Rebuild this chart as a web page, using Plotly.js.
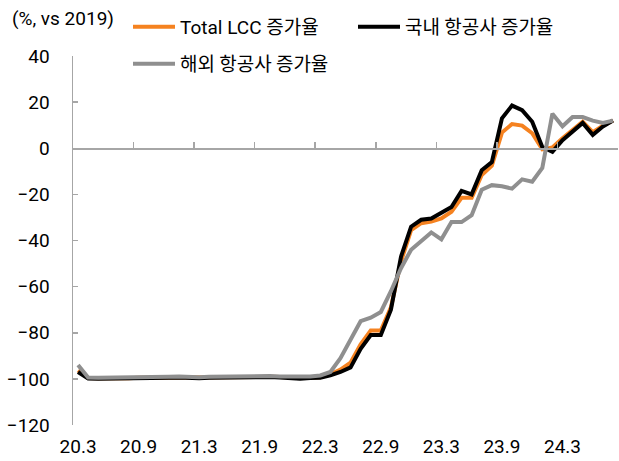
<!DOCTYPE html>
<html>
<head>
<meta charset="utf-8">
<script src="https://cdn.plot.ly/plotly-3.0.1.min.js"></script>
<style>html,body{margin:0;padding:0;background:#fff;}#chart{width:619px;height:461px;}</style>
</head>
<body>
<div id="chart"></div>
<script>
// Monthly categories (YY.M), 2020.3 - 2024.8
const months = [
  '20.3','20.4','20.5','20.6','20.7','20.8','20.9','20.10','20.11','20.12',
  '21.1','21.2','21.3','21.4','21.5','21.6','21.7','21.8','21.9','21.10','21.11','21.12',
  '22.1','22.2','22.3','22.4','22.5','22.6','22.7','22.8','22.9','22.10','22.11','22.12',
  '23.1','23.2','23.3','23.4','23.5','23.6','23.7','23.8','23.9','23.10','23.11','23.12',
  '24.1','24.2','24.3','24.4','24.5','24.6','24.7','24.8'
];
const tickLabels = ['20.3','20.9','21.3','21.9','22.3','22.9','23.3','23.9','24.3'];

const seriesNames = ['Total LCC 증가율', '국내 항공사 증가율', '해외 항공사 증가율'];
const unitLabel = '(%, vs 2019)';

const totalLCC = [
  -96.3, -99.6, -99.7, -99.8, -99.6, -99.7, -99.5, -99.5, -99.6, -99.3,
  -99.3, -99.5, -99.5, -99.4, -99.3, -99.4, -99.4, -99.3, -99.2, -99.1, -99.2, -99.5,
  -99.7, -99.5, -99.3, -98.0, -96.0, -93.0, -85.0, -79.0, -79.0, -69.0, -49.0, -35.5,
  -32.5, -31.8, -30.4, -27.5, -21.5, -21.5, -11.6, -7.5, 6.8, 10.5, 9.8, 6.5,
  -0.5, 0.3, 4.3, 7.9, 11.5, 7.0, 9.8, 12.0
];
const domestic = [
  -97.0, -99.8, -99.9, -99.9, -99.8, -99.8, -99.7, -99.6, -99.7, -99.5,
  -99.4, -99.6, -99.7, -99.5, -99.4, -99.5, -99.6, -99.4, -99.3, -99.2, -99.4, -99.7,
  -99.9, -99.6, -99.5, -98.5, -97.0, -95.0, -87.0, -81.0, -81.0, -70.0, -47.0, -34.0,
  -31.0, -30.5, -28.0, -25.5, -18.5, -20.0, -9.5, -6.0, 13.0, 18.5, 16.5, 11.5,
  0.5, -1.5, 3.5, 7.0, 11.0, 5.8, 9.4, 12.0
];
const overseas = [
  -94.0, -99.4, -99.5, -99.5, -99.4, -99.3, -99.3, -99.2, -99.3, -99.1,
  -99.0, -99.2, -99.3, -99.1, -99.0, -99.1, -99.2, -99.0, -98.9, -98.8, -99.0, -99.1,
  -99.3, -99.0, -98.5, -97.0, -91.0, -83.0, -75.0, -73.5, -71.0, -62.0, -52.0, -44.0,
  -40.0, -36.5, -39.5, -32.0, -32.0, -29.0, -18.0, -16.0, -16.5, -17.5, -13.5, -14.5,
  -8.5, 15.0, 9.5, 13.5, 13.5, 12.0, 11.0, 12.0
];

const W = 619, H = 461;
const M = {l: 73, r: 1, t: 56, b: 36};
const FONT = 'Roboto, "Noto Sans CJK KR", sans-serif';
const FS = 19;
const AXIS_GRAY = '#a6a6a6';
const YMIN = -120, YMAX = 40;

function hangul(name) {
  return name.replace(/([\uAC00-\uD7A3]+(?: [\uAC00-\uD7A3]+)*)/g,
    '<span style="font-family:Noto Sans CJK KR">$1</span>');
}

const legendBase = {
  orientation: 'h', xref: 'container', yref: 'container',
  xanchor: 'left', yanchor: 'top', itemwidth: 42,
  font: {family: FONT, size: FS, color: '#000'},
  bgcolor: 'rgba(0,0,0,0)', borderwidth: 0
};

const traces = [
  {x: months, y: totalLCC, name: hangul(seriesNames[0]), type: 'scatter', mode: 'lines',
   line: {color: '#f58220', width: 4}, legend: 'legend'},
  {x: months, y: domestic, name: hangul(seriesNames[1]), type: 'scatter', mode: 'lines',
   line: {color: '#000000', width: 4}, legend: 'legend2'},
  {x: months, y: overseas, name: hangul(seriesNames[2]), type: 'scatter', mode: 'lines',
   line: {color: '#8f8f8f', width: 4}, legend: 'legend3'},
  // carrier for the axis drawn along y = 0 (draws nothing)
  {x: months, y: domestic, type: 'scatter', mode: 'none', xaxis: 'x2',
   showlegend: false, hoverinfo: 'skip'}
];

const plotW = W - M.l - M.r, plotH = H - M.t - M.b;

const layout = {
  width: W, height: H,
  margin: Object.assign({autoexpand: false}, M),
  paper_bgcolor: '#ffffff', plot_bgcolor: '#ffffff',
  font: {family: FONT, size: FS, color: '#000000'},
  showlegend: true,
  xaxis: {
    type: 'category', categoryorder: 'array', categoryarray: months,
    range: [-0.5, months.length - 0.5],
    anchor: 'y', side: 'bottom',
    showline: false, ticks: '', showgrid: false, zeroline: false,
    tickmode: 'array', tickvals: tickLabels, ticktext: tickLabels,
    tickfont: {family: FONT, size: FS, color: '#000'}, ticklabelstandoff: 8,
    tickangle: 0
  },
  xaxis2: {
    type: 'category', categoryorder: 'array', categoryarray: months,
    range: [-0.5, months.length - 0.5],
    overlaying: 'x', anchor: 'free', position: (0 - YMIN) / (YMAX - YMIN),
    showline: true, linecolor: AXIS_GRAY, linewidth: 1.5,
    ticks: 'inside', ticklen: 6, tickwidth: 1.5, tickcolor: AXIS_GRAY,
    tickson: 'boundaries', tickmode: 'linear', tick0: 0, dtick: 6,
    showticklabels: false, showgrid: false, zeroline: false
  },
  yaxis: {
    range: [YMIN, YMAX], dtick: 20, tick0: 0,
    showline: true, linecolor: AXIS_GRAY, linewidth: 1.5,
    ticks: 'inside', ticklen: 5, tickwidth: 1.5, tickcolor: AXIS_GRAY,
    showgrid: false, zeroline: false,
    tickfont: {family: FONT, size: FS, color: '#000'}, ticklabelstandoff: 18
  },
  legend: Object.assign({}, legendBase, {x: 128 / W, y: 1 - 8 / H}),
  legend2: Object.assign({}, legendBase, {x: 353 / W, y: 1 - 8 / H}),
  legend3: Object.assign({}, legendBase, {x: 128 / W, y: 1 - 45 / H}),
  annotations: [{
    text: unitLabel, xref: 'paper', yref: 'paper',
    x: (10 - M.l) / plotW, y: (H - M.b - 18) / plotH,
    xanchor: 'left', yanchor: 'middle',
    showarrow: false, font: {family: FONT, size: FS, color: '#000'}
  }]
};

Plotly.newPlot('chart', traces, layout, {staticPlot: true, displayModeBar: false});
</script>
</body>
</html>
